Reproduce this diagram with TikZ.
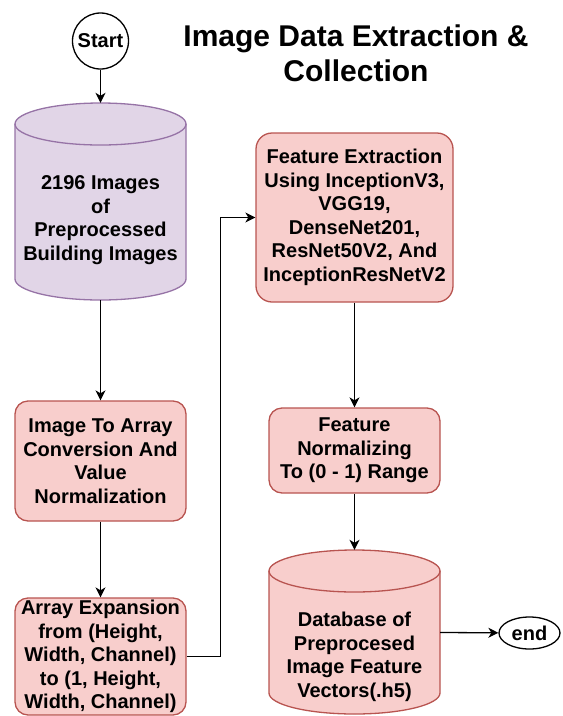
\documentclass[tikz,border=0pt]{standalone}
\usepackage{fontspec}
\setmainfont{Liberation Sans}
\usetikzlibrary{arrows.meta,shapes.geometric}
\definecolor{purpfill}{HTML}{E1D5E7}
\definecolor{purpline}{HTML}{9673A6}
\definecolor{redfill}{HTML}{F8CECC}
\definecolor{redline}{HTML}{B85450}
\begin{document}
\begin{tikzpicture}[x=1pt,y=1pt,
  txt/.style={font=\fontsize{20}{23.5}\selectfont\bfseries, align=center, inner sep=0pt},
  stepbox/.style={txt, draw=redline, fill=redfill, line width=1.3pt, rounded corners=13pt,
    minimum width=171pt},
  frame/.style={inner sep=0pt, minimum width=171pt},
  terminal/.style={txt, draw=black, fill=white, line width=1.3pt},
  flow/.style={draw=black, line width=1.3pt, -{Stealth[length=10pt,width=10pt,inset=3pt]}},
  cylline/.style={line width=1.3pt}]
\useasboundingbox (0,0) rectangle (563,-716);

% title
\node[font=\fontsize{30}{35}\selectfont\bfseries, align=center, inner sep=0pt] (title)
  at (356,-53) {Image Data Extraction \&\\Collection};

% start / end terminals
\node[terminal, circle, minimum size=56pt] (start) at (100.5,-41) {Start};
\node[terminal, ellipse, minimum width=61pt, minimum height=32pt] (endnode) at (529.5,-633) {end};

% source image store (cylinder)
\path[cylline, fill=purpfill, draw=purpline] (15,-124) -- (15,-279)
  arc[start angle=180, end angle=360, x radius=85.5, y radius=21] -- (186,-124)
  arc[start angle=0, end angle=180, x radius=85.5, y radius=21] -- cycle;
\draw[cylline, purpline] (15,-124) arc[start angle=180, end angle=360, x radius=85.5, y radius=21];
\node[frame, minimum height=197pt] (db1) at (100.5,-201.5) {};
\node[txt] (db1txt) at (100.5,-220) {2196 Images\\of\\Preprocessed\\Building Images};

% feature database (cylinder)
\path[cylline, fill=redfill, draw=redline] (269,-571) -- (269,-693)
  arc[start angle=180, end angle=360, x radius=85.5, y radius=21] -- (440,-571)
  arc[start angle=0, end angle=180, x radius=85.5, y radius=21] -- cycle;
\draw[cylline, redline] (269,-571) arc[start angle=180, end angle=360, x radius=85.5, y radius=21];
\node[frame, minimum height=164pt] (db2) at (354.5,-632) {};
\node[txt] (db2txt) at (354.5,-657) {Database of\\Preprocesed\\Image Feature\\Vectors(.h5)};

% processing steps
\node[stepbox, minimum height=120pt] (conv) at (100.5,-461)
  {Image To Array\\Conversion And\\Value\\Normalization};
\node[stepbox, minimum height=117pt] (expand) at (100.5,-656.5)
  {Array Expansion\\from (Height,\\Width, Channel)\\to (1, Height,\\Width, Channel)};
\node[stepbox, minimum width=197pt, minimum height=169pt, rounded corners=16pt] (feat) at (354.5,-217.5)
  {Feature Extraction\\Using InceptionV3,\\VGG19,\\DenseNet201,\\ResNet50V2, And\\InceptionResNetV2};
\node[stepbox, minimum height=85pt] (norm) at (354.5,-450.5)
  {Feature\\Normalizing\\To (0 - 1) Range};

% connectors
\draw[flow] (start) -- (db1);
\draw[flow] (db1) -- (conv);
\draw[flow] (conv) -- (expand);
\draw[flow] (expand.east) -- ++(34,0) |- (feat.west);
\draw[flow] (feat) -- (norm);
\draw[flow] (norm) -- (db2);
\draw[flow] (db2) -- (endnode);
\end{tikzpicture}
\end{document}
